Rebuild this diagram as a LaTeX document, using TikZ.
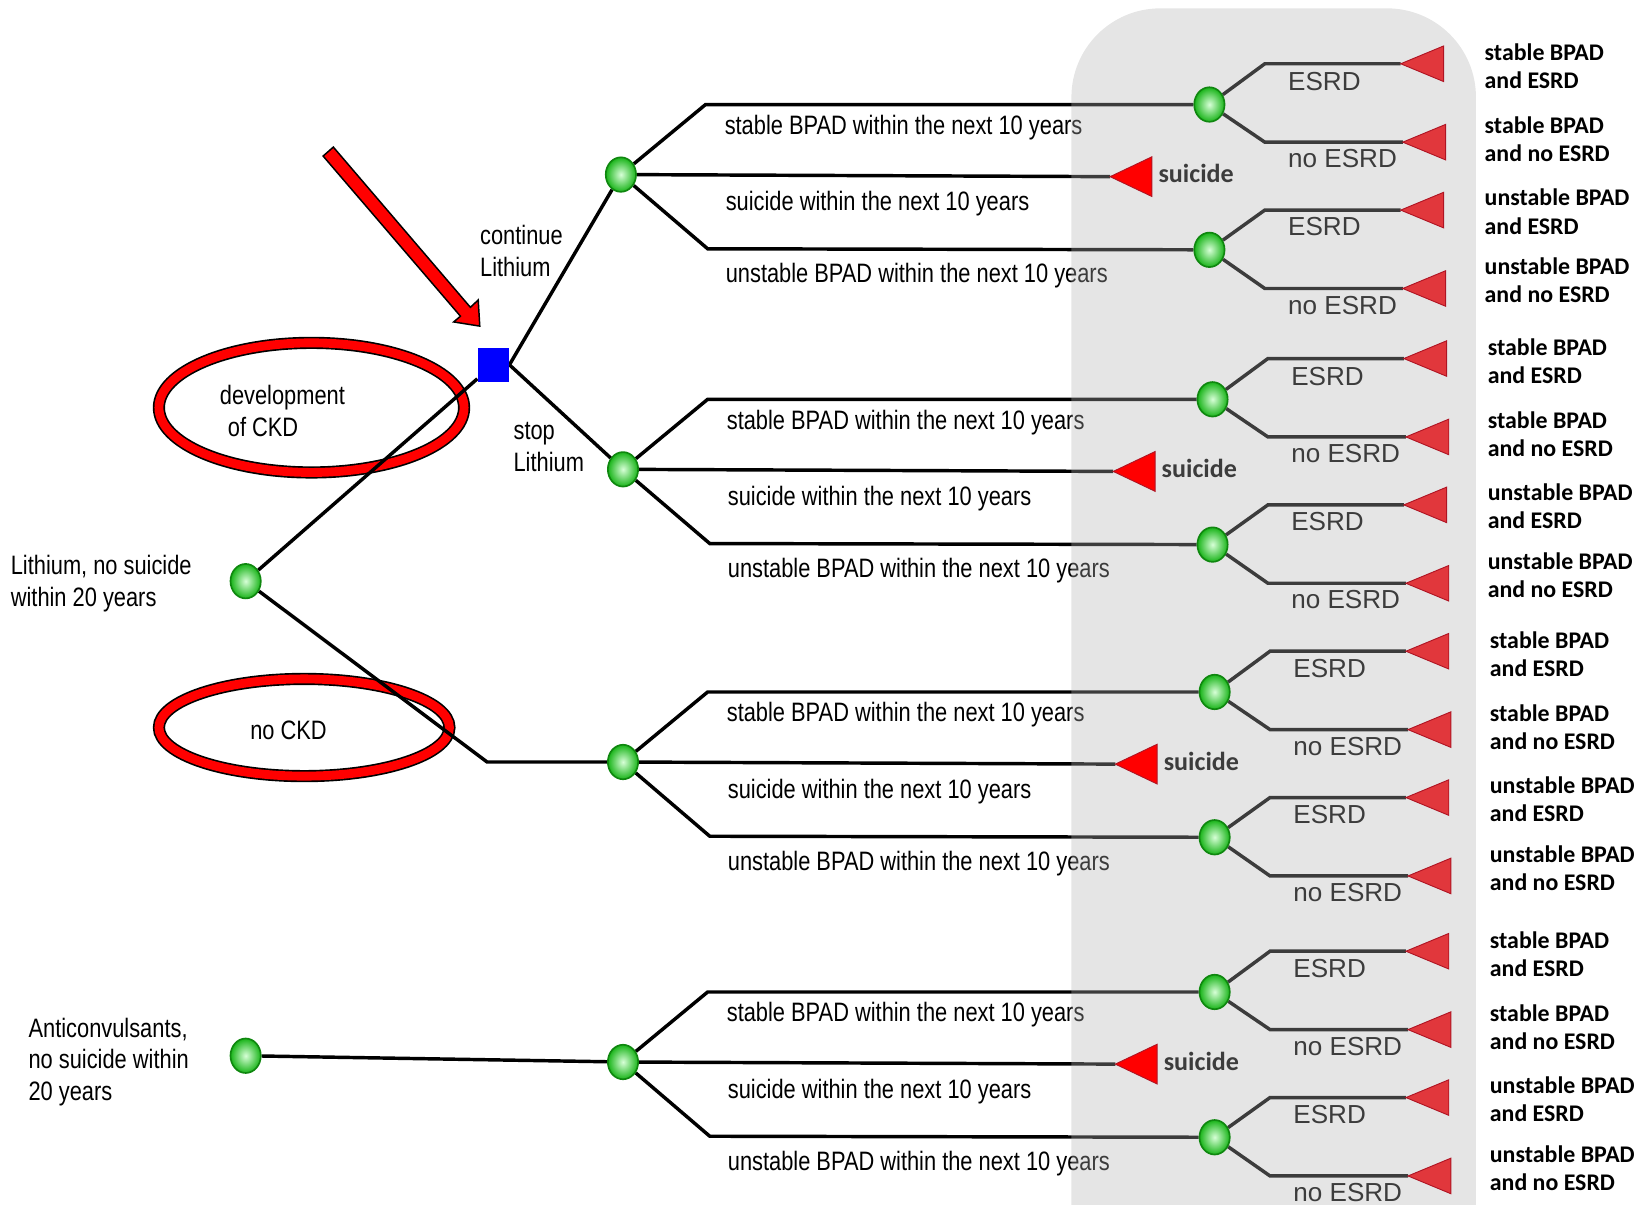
\documentclass[tikz,border=0pt]{standalone}
\usepackage{fontspec}
\setmainfont{Liberation Sans}
\newfontfamily\narrowf[FakeStretch=0.82]{Liberation Sans}
\newfontfamily\carl{Carlito}
\usetikzlibrary{shapes.geometric}
\pgfdeclarelayer{back}
\pgfdeclarelayer{bg}
\pgfdeclarelayer{panel}
\pgfsetlayers{back,bg,panel,main}
\definecolor{gin}{RGB}{215,255,215}
\definecolor{gout}{RGB}{25,180,25}
\definecolor{gedge}{RGB}{15,135,15}
\definecolor{termred}{RGB}{225,55,60}
\definecolor{tribord}{RGB}{175,20,35}
\definecolor{panelc}{RGB}{178,178,178}
\tikzset{
  branch/.style={line width=0.066cm, black},
  chance/.style={ellipse, minimum width=0.58cm, minimum height=0.66cm, inner sep=0pt,
    draw=gedge, line width=0.9pt, inner color=gin, outer color=gout},
  decision/.style={rectangle, fill=blue, minimum width=0.6cm, minimum height=0.64cm, inner sep=0pt},
  ring/.style={ellipse, draw=black, line width=0.9pt, double=red, double distance=0.17cm, inner sep=0pt},
  nlab/.style={font=\narrowf\fontsize{14.5pt}{17.3pt}\selectfont, inner sep=0pt, anchor=west, align=left},
  elab/.style={font=\fontsize{14.2pt}{17pt}\selectfont, inner sep=0pt, anchor=west},
  slab/.style={font=\carl\bfseries\fontsize{14.2pt}{17pt}\selectfont, inner sep=0pt, anchor=west},
  rlab/.style={font=\carl\bfseries\fontsize{13pt}{15.3pt}\selectfont, inner sep=0pt, anchor=west, align=left},
  termtri/.style={fill=termred, draw=tribord, line width=0.5pt},
  suictri/.style={fill=red, draw=tribord, line width=0.5pt},
}
\newcommand\ttri[3]{\coordinate (#1) at (#2,#3);
  \filldraw[termtri] (#1) -- ++(41,-17) -- ++(0,34) -- cycle;}
\newcommand\stri[3]{\coordinate (#1) at (#2,#3);
  \filldraw[suictri] (#1) -- ++(40,-19) -- ++(0,38) -- cycle;}
\newcommand\grp[4]{%
  \node[chance] (c#1) at (#2,#3) {};
  \node[chance] (cu#1) at (1157+#4,#3-67) {};
  \node[chance] (cl#1) at (1157+#4,#3+72) {};
  \coordinate (ku#1) at (#2+81,#3-67);
  \coordinate (kl#1) at (#2+83,#3+71);
  \coordinate (kuu#1) at (1210+#4,#3-106);
  \coordinate (kud#1) at (1210+#4,#3-31);
  \coordinate (klu#1) at (1210+#4,#3+34);
  \coordinate (kld#1) at (1210+#4,#3+109);
  \ttri{tuu#1}{1340+#4}{#3-106}
  \ttri{tud#1}{1342+#4}{#3-31}
  \ttri{tlu#1}{1340+#4}{#3+34}
  \ttri{tld#1}{1342+#4}{#3+109}
  \stri{tm#1}{1062+#4}{#3+2}
  \node[rlab] (r1#1) at (1420+#4,#3-103.5) {stable BPAD\\and ESRD};
  \node[rlab] (r2#1) at (1420+#4,#3-33.5) {stable BPAD\\and no ESRD};
  \node[rlab] (r3#1) at (1420+#4,#3+35.5) {unstable BPAD\\and ESRD};
  \node[rlab] (r4#1) at (1420+#4,#3+101.5) {unstable BPAD\\and no ESRD};
  \begin{pgfonlayer}{bg}
    \draw[branch] (c#1) -- (ku#1) -- (cu#1);
    \draw[branch] (c#1) -- (tm#1);
    \draw[branch] (c#1) -- (kl#1) -- (cl#1);
    \draw[branch] (cu#1) -- (kuu#1) -- (tuu#1);
    \draw[branch] (cu#1) -- (kud#1) -- (tud#1);
    \draw[branch] (cl#1) -- (klu#1) -- (tlu#1);
    \draw[branch] (cl#1) -- (kld#1) -- (tld#1);
    \node[nlab] (lu#1) at (#2+99,#3-45) {stable BPAD within the next 10 years};
    \node[nlab] (lm#1) at (#2+100,#3+28) {suicide within the next 10 years};
    \node[nlab] (ll#1) at (#2+100,#3+97) {unstable BPAD within the next 10 years};
    \node[slab] (ls#1) at (1108+#4,#3-1) {suicide};
    \node[elab] (e1#1) at (1232+#4,#3-89) {ESRD};
    \node[elab] (e2#1) at (1232+#4,#3-15) {no ESRD};
    \node[elab] (e3#1) at (1232+#4,#3+50) {ESRD};
    \node[elab] (e4#1) at (1232+#4,#3+125) {no ESRD};
  \end{pgfonlayer}
}
\begin{document}
\begin{tikzpicture}[x=0.02cm, y=-0.02cm]
\useasboundingbox (0,0) rectangle (1568,1152);
% ellipses
\begin{pgfonlayer}{back}
  \node[ring, minimum width=5.84cm, minimum height=2.48cm] (ckd) at (298,390) {};
  \node[ring, minimum width=5.56cm, minimum height=1.86cm] (nockd) at (291,696) {};
\end{pgfonlayer}
% left nodes
\node[chance] (lith) at (235,556) {};
\node[chance] (anti) at (235,1010) {};
\node[decision] (sq) at (472,349) {};
\coordinate (kn) at (466,729);
\grp{1}{594}{167}{0}
\grp{2}{596}{449}{3}
\grp{3}{596}{729}{5}
\grp{4}{596}{1016}{5}
\begin{pgfonlayer}{bg}
  \draw[branch] (lith) -- (sq);
  \draw[branch] (sq.east) -- (c1);
  \draw[branch] (sq.east) -- (c2);
  \draw[branch] (lith) -- (kn) -- (c3);
  \draw[branch] (anti) -- (c4);
  \node[nlab] (tdev) at (210,393) {development\\\hspace*{0.3em}of CKD};
  \node[nlab, anchor=center] (tnockd) at (276,699) {no CKD};
  \node[nlab] (tcont) at (459,240) {continue\\Lithium};
  \node[nlab] (tstop) at (491,428) {stop\\Lithium};
  \node[nlab] (tlith) at (10,558) {Lithium, no suicide\\within 20 years};
  \node[nlab] (tanti) at (27,1016) {Anticonvulsants,\\no suicide within\\20 years};
\end{pgfonlayer}
% red arrow
\filldraw[fill=red, draw=black, line width=0.8pt]
  (318.9,140.7) -- (450.0,294.0) -- (457.5,287.0) -- (459,312)
  -- (434.0,308.0) -- (440.5,302.5) -- (309.1,149.3) -- cycle;
% gray panel
\begin{pgfonlayer}{panel}
  \fill[panelc, opacity=0.337, rounded corners=1.7cm]
    (1025,1250) -- (1025,8) -- (1412,8) -- (1412,1250) -- cycle;
\end{pgfonlayer}
\end{tikzpicture}
\end{document}
